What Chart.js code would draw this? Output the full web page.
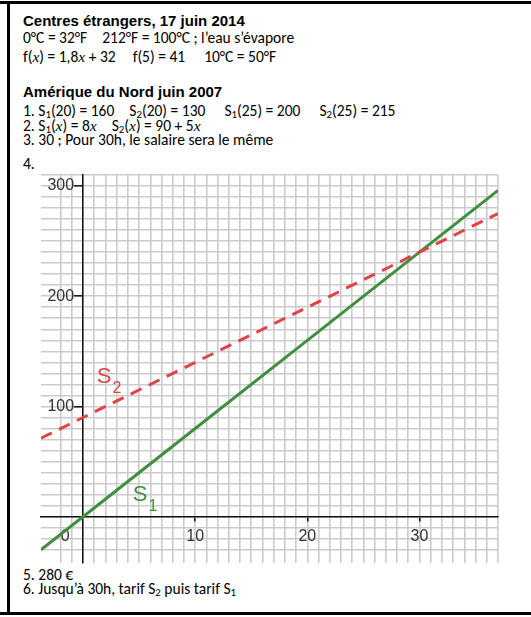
<!DOCTYPE html>
<html>
<head>
<meta charset="utf-8">
<script src="https://cdn.jsdelivr.net/npm/chart.js@4"></script>
<style>
  html, body { margin: 0; padding: 0; background: #fff; }
  body { width: 531px; height: 617px; position: relative; overflow: hidden; }
  #chart { position: absolute; left: 0; top: 0; }
  .ln { position: absolute; left: 23px; white-space: nowrap; font-family: Carlito, Calibri, Lato, "Open Sans", sans-serif; font-size: 15.5px; line-height: 16px; color: #000; }
  .ln span { margin-left: 15px; }
  .hd { position: absolute; left: 23px; white-space: nowrap; font-family: "Liberation Sans", Arial, sans-serif; font-weight: bold; font-size: 15px; line-height: 17px; color: #000; }
  .ln i { font-family: "Liberation Serif", serif; font-style: italic; }
  sub { font-size: 70%; vertical-align: -2px; line-height: 0; }
  .rule { position: absolute; background: #000; }
</style>
</head>
<body>
<div class="rule" style="left:0; top:1px; width:531px; height:3px"></div>
<div class="rule" style="left:7px; top:1px; width:3px; height:614px"></div>
<div class="rule" style="left:0; top:612px; width:531px; height:3px"></div>

<div class="hd" style="top:12px">Centres étrangers, 17 juin 2014</div>
<div class="ln" style="top:30px">0°C = 32°F<span>212°F = 100°C ; l’eau s’évapore</span></div>
<div class="ln" style="top:49px">f(<i>x</i>) = 1,8<i>x</i> + 32<span style="margin-left:17px">f(5) = 41</span><span style="margin-left:19px">10°C = 50°F</span></div>

<div class="hd" style="top:83px">Amérique du Nord juin 2007</div>
<div class="ln" style="top:103px">1. S<sub>1</sub>(20) = 160<span>S<sub>2</sub>(20) = 130</span><span style="margin-left:19px">S<sub>1</sub>(25) = 200</span><span style="margin-left:19px">S<sub>2</sub>(25) = 215</span></div>
<div class="ln" style="top:118px">2. S<sub>1</sub>(<i>x</i>) = 8<i>x</i><span>S<sub>2</sub>(<i>x</i>) = 90 + 5<i>x</i></span></div>
<div class="ln" style="top:132px">3. 30 ; Pour 30h, le salaire sera le même</div>
<div class="ln" style="top:156px">4.</div>

<div class="ln" style="top:567px">5. 280 €</div>
<div class="ln" style="top:581px">6. Jusqu’à 30h, tarif S<sub>2</sub> puis tarif S<sub>1</sub></div>

<canvas id="chart" width="531" height="617"></canvas>

<script>
// ---------------- data ----------------
var hours = [-3.75, 0, 10, 20, 30, 37];
var valuesS1 = [-30, 0, 80, 160, 240, 296];          // S1(x) = 8x
var valuesS2 = [71.25, 90, 140, 190, 240, 275];       // S2(x) = 90 + 5x
var seriesNames = ['S1', 'S2'];
var labelAnchorX = [4.44, 1.22];                      // where S1 / S2 are written
var labelAnchorY = [14.5, 121];
var xTickLabels = [0, 10, 20, 30];
var yTickLabels = [100, 200, 300];
var xMin = -3.75, xMax = 37, yMin = -42, yMax = 310;

var gridColor = '#cbcbcb';
var axisFont = '"Liberation Sans", Arial, sans-serif';

Chart.defaults.font.family = axisFont;

// write S1 / S2 next to their line, with a lowered index
var seriesLabels = {
    id: 'seriesLabels',
    afterDatasetsDraw: function(chart) {
        var ctx = chart.ctx;
        var sx = chart.scales.x, sy = chart.scales.y;
        ctx.save();
        ctx.textBaseline = 'alphabetic';
        ctx.textAlign = 'left';
        for (var i = 0; i < seriesNames.length; i++) {
            var px = sx.getPixelForValue(labelAnchorX[i]);
            var py = sy.getPixelForValue(labelAnchorY[i]);
            ctx.fillStyle = chart.data.datasets[i].borderColor;
            ctx.font = '22px ' + axisFont;
            ctx.fillText(seriesNames[i].charAt(0), px, py);
            var w = ctx.measureText(seriesNames[i].charAt(0)).width;
            ctx.font = '16px ' + axisFont;
            ctx.fillText(seriesNames[i].slice(1), px + w + 1, py + 10);
        }
        ctx.restore();
    }
};

var pointsS1 = hours.map(function(h, i) { return {x: h, y: valuesS1[i]}; });
var pointsS2 = hours.map(function(h, i) { return {x: h, y: valuesS2[i]}; });

var ctx1 = document.getElementById('chart');
var salaryChart = new Chart(ctx1, {
    type: 'line',
    data: {
        datasets: [{
            label: 'S1',
            data: pointsS1,
            borderColor: '#3f8f3f',
            borderWidth: 3,
            pointRadius: 0,
            order: 2
        }, {
            label: 'S2',
            data: pointsS2,
            borderColor: '#df4448',
            borderWidth: 3,
            borderDash: [12, 8],
            pointRadius: 0,
            order: 1
        }]
    },
    options: {
        responsive: false,
        animation: false,
        layout: { padding: { left: 41, top: 175, right: 33, bottom: 54 } },
        plugins: {
            legend: { display: false },
            tooltip: { enabled: false }
        },
        scales: {
            x: {
                type: 'linear',
                min: xMin,
                max: xMax,
                position: { y: 0 },
                afterFit: function(scale) { scale.height = 0; },
                border: { display: true, color: '#111', width: 1.5 },
                grid: {
                    color: function(c) { return Number.isInteger(c.tick.value) ? gridColor : 'rgba(0,0,0,0)'; },
                    lineWidth: 1.6,
                    drawTicks: true,
                    tickLength: 4,
                    tickColor: function(c) {
                        return (c.tick.value !== 0 && xTickLabels.indexOf(c.tick.value) >= 0) ? '#111' : 'rgba(0,0,0,0)';
                    },
                    tickWidth: 1.5
                },
                ticks: {
                    stepSize: 1,
                    autoSkip: false,
                    maxRotation: 0,
                    padding: 6,
                    color: '#333',
                    font: { size: 16 },
                    callback: function(v) {
                        if (xTickLabels.indexOf(v) < 0) return '';
                        return v === 0 ? '0        ' : String(v);
                    }
                }
            },
            y: {
                type: 'linear',
                min: yMin,
                max: yMax,
                position: { x: 0 },
                afterFit: function(scale) { scale.width = 0; },
                border: { display: true, color: '#111', width: 1.5 },
                grid: {
                    color: function(c) { return c.tick.value % 10 === 0 ? gridColor : 'rgba(0,0,0,0)'; },
                    lineWidth: 1.6,
                    drawTicks: true,
                    tickLength: 8,
                    tickColor: function(c) {
                        return yTickLabels.indexOf(c.tick.value) >= 0 ? '#111' : 'rgba(0,0,0,0)';
                    },
                    tickWidth: 1.5
                },
                ticks: {
                    stepSize: 10,
                    autoSkip: false,
                    padding: 4,
                    color: '#333',
                    font: { size: 16 },
                    // trailing spaces push the right-aligned label off the axis line
                    callback: function(v) { return yTickLabels.indexOf(v) >= 0 ? String(v) + '  ' : ''; }
                }
            }
        }
    },
    plugins: [seriesLabels]
});
</script>
</body>
</html>
